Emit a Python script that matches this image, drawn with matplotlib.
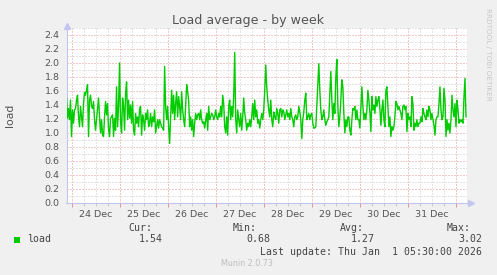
import numpy as np
import pandas as pd
import matplotlib
matplotlib.use("Agg")
import matplotlib.pyplot as plt
import matplotlib.dates as mdates
from matplotlib.ticker import MultipleLocator, FuncFormatter, NullFormatter
from matplotlib.patches import Rectangle

# ---------------- data ----------------
title = "Load average - by week"
y_label = "load"
series_name = "load"
end_time = "2026-01-01 05:00"
step_minutes = 30

load_part1 = [1.50, 1.21, 1.35, 1.19, 1.47, 0.95, 1.33, 1.14, 1.33, 1.35,
              1.47, 1.54, 1.23, 1.09, 1.38, 1.23, 1.09, 1.42, 1.58, 1.54,
              1.61, 1.69, 0.95, 1.47, 1.54, 1.38, 1.35, 1.45, 1.19, 1.04,
              1.19, 1.33, 1.50, 1.23, 1.00, 1.19, 0.97, 0.95, 1.23, 1.45,
              1.26, 1.42, 1.04, 0.95, 1.21, 1.23, 1.26, 0.95, 1.21, 1.04,
              1.66, 1.09, 1.38, 2.00, 1.16, 1.00, 1.50, 1.38, 1.04, 1.57,
              1.73, 1.19, 1.47, 1.21, 1.40, 1.14, 1.45, 1.04, 0.97, 1.28,
              1.14, 1.23, 1.09, 1.35, 1.38, 0.97, 1.26, 1.19, 1.04, 1.28,
              1.19, 1.33, 1.09, 1.14, 1.28, 1.09, 1.23, 1.16, 1.33, 1.00,
              1.09, 1.19, 1.07, 1.19, 1.14, 1.09, 1.07, 1.04]
load_part2 = [1.95, 1.38, 1.19, 1.38, 1.09, 0.85, 1.23, 1.61, 1.28, 1.54,
              1.19, 1.42, 1.59, 1.23, 1.52, 1.38, 1.19, 1.59, 1.33, 1.19,
              1.09, 1.38, 1.69, 1.59, 1.47, 1.09, 1.23, 1.04, 1.19, 0.95,
              1.14, 1.28, 1.19, 1.26, 1.28, 1.19, 1.33, 1.19, 1.14, 1.16,
              1.07, 1.19, 1.28, 1.04, 1.38, 1.19, 1.23, 1.28, 1.26, 1.19,
              1.23, 1.33, 1.23, 1.19, 1.28, 1.23, 1.38, 1.23, 1.54, 1.42,
              1.09, 1.00, 1.23, 0.97, 1.38, 1.47, 1.19, 1.38, 1.23, 1.52,
              2.15, 1.19, 1.00, 1.33, 1.19, 1.09, 1.28, 1.04, 1.23, 1.50,
              1.28, 1.19, 1.04, 1.14, 1.09, 1.19, 1.09, 1.23, 1.42, 1.19,
              1.47, 1.23, 1.33, 1.14, 1.19, 1.07, 1.19, 1.28, 1.19, 1.33,
              1.61, 1.97, 1.66, 1.47, 1.33, 1.23, 1.47, 1.19, 1.09, 1.30,
              1.23]
load_part3 = [1.19, 1.35, 1.28, 1.14, 1.33, 1.35, 1.23, 1.33, 1.30,
              1.19, 1.26, 1.33, 1.23, 1.28, 1.19, 1.35, 1.23, 1.19, 1.09,
              1.23, 1.26, 1.19, 1.23, 1.38, 1.30, 1.19, 0.92, 1.19, 1.30,
              1.47, 1.57, 1.19, 1.23, 1.28, 1.19, 1.26, 1.28, 1.14, 1.07,
              1.07, 1.09, 1.38, 1.66, 1.99, 1.61, 1.33, 1.19, 1.23, 1.33,
              1.19, 1.11, 1.16, 1.19, 1.23, 1.57, 1.88, 1.47, 1.19, 1.42,
              1.28, 1.80, 2.05, 1.38, 1.09, 1.23, 1.47, 1.76, 1.66, 1.28,
              1.00, 1.19, 1.09, 1.23, 1.23, 1.04, 0.97, 1.19, 1.35, 1.33,
              1.38, 1.19, 1.33, 1.19, 1.19, 1.07, 1.38, 1.66, 1.38, 1.19,
              1.28, 1.19, 1.33, 1.61, 1.47, 1.30, 1.02, 1.52, 1.33, 1.40,
              1.28, 1.52, 1.38, 1.47, 1.52, 1.35]
load_part4 = [1.11, 1.33, 1.47, 1.19, 1.09, 1.61, 1.66, 1.38, 1.09, 1.23,
              0.95, 1.09, 1.04, 1.09, 1.23, 1.45, 1.42, 1.33, 1.38, 1.33,
              1.28, 1.19, 1.38, 1.40, 1.33, 1.38, 1.02, 1.28, 1.19, 1.23,
              1.09, 1.52, 1.42, 1.04, 1.14, 1.09, 1.19, 1.09, 1.14, 1.14,
              1.23, 1.16, 1.35, 1.28, 1.23, 1.19, 1.33, 1.23, 1.38, 1.33,
              1.19, 1.28, 1.19, 1.11, 0.97, 1.19, 1.23, 1.23, 1.42, 1.66,
              1.33, 1.19, 1.23, 1.64, 1.47, 0.95, 1.19, 1.04, 1.14, 1.00,
              1.19, 1.54, 1.33, 1.23, 1.42, 1.09, 1.47, 1.33, 1.14, 1.19,
              1.16, 1.19, 1.14, 1.52, 1.78, 1.23]

stat_labels = ["Cur:", "Min:", "Avg:", "Max:"]
stat_values = ["1.54", "0.68", "1.27", "3.02"]
last_update = "Last update: Thu Jan  1 05:30:00 2026"
footer = "Munin 2.0.73"
side_text = "RRDTOOL / TOBI OETIKER"

y_min, y_max = 0.0, 2.5
x_start = "2025-12-23 21:30"
x_end = "2026-01-01 05:30"

# ---------------- build ----------------
load = np.array(load_part1 + load_part2 + load_part3 + load_part4)
times = pd.date_range(end=end_time, periods=len(load), freq=f"{step_minutes}min")

W, H = 497, 275
fig = plt.figure(figsize=(W / 100, H / 100), dpi=100, facecolor="#f0f0f0")

def px(x, y):
    return x / W, 1 - y / H

L, R, T, B = 66.5, 467, 28, 203
ax = fig.add_axes([L / W, 1 - B / H, (R - L) / W, (B - T) / H])
ax.set_facecolor("white")

major_red = "#e49494"
minor_gray = "#c8c8c8"
axis_col = "#c4c4f0"
text_col = "#555555"

ax.plot(times, load, color="#00cc00", lw=1.0, zorder=3)

ax.set_xlim(pd.Timestamp(x_start), pd.Timestamp(x_end))
ax.set_ylim(y_min, y_max)

ax.xaxis.set_major_locator(mdates.DayLocator())
ax.xaxis.set_minor_locator(mdates.HourLocator(byhour=[6, 12, 18]))
ax.xaxis.set_major_formatter(NullFormatter())

def minor_fmt(v, pos):
    d = mdates.num2date(v)
    return d.strftime("%d %b") if d.hour == 12 else ""

ax.xaxis.set_minor_formatter(FuncFormatter(minor_fmt))
ax.yaxis.set_major_locator(MultipleLocator(0.2))
ax.yaxis.set_minor_locator(MultipleLocator(0.1))
ax.yaxis.set_major_formatter(FuncFormatter(lambda v, p: f"{v:.1f}"))

dot = (0, (1, 2))
ax.grid(which="minor", color=minor_gray, lw=0.72, linestyle=dot, zorder=1)
ax.grid(which="major", color=major_red, lw=0.72, linestyle=dot, zorder=2)
ax.set_axisbelow(True)

ax.tick_params(axis="x", which="major", length=3, color=major_red, width=0.72)
ax.tick_params(axis="x", which="minor", length=2, color=minor_gray, width=0.72,
               labelsize=6.8, labelcolor=text_col, pad=3)
ax.tick_params(axis="y", which="both", length=0, labelsize=6.8,
               labelcolor=text_col, pad=5)

for s in ["top", "right"]:
    ax.spines[s].set_visible(False)
for s in ["left", "bottom"]:
    ax.spines[s].set_color(axis_col)
    ax.spines[s].set_linewidth(0.8)

# axis arrows
ax.plot([0], [1.01], marker="^", ms=4.5, color=axis_col, transform=ax.transAxes,
        clip_on=False, zorder=5)
ax.plot([1.01], [0], marker=">", ms=4.5, color=axis_col, transform=ax.transAxes,
        clip_on=False, zorder=5)
ax.plot([0, 0], [1.0, 1.02], color=axis_col, lw=0.8, transform=ax.transAxes, clip_on=False)
ax.plot([1.0, 1.01], [0, 0], color=axis_col, lw=0.8, transform=ax.transAxes, clip_on=False)

# texts
fig.text(*px(248, 24), title, ha="center", va="baseline", fontsize=9.1, color=text_col)
fig.text(*px(10, 115), y_label, ha="center", va="center", rotation=90,
         fontsize=7.8, color=text_col)
fig.text(*px(488, 54), side_text, ha="center", va="center", rotation=270,
         fontsize=5.2, color="#c8c8c8")

mono = dict(family="DejaVu Sans Mono", fontsize=7.1, color="#444444")
fig.add_artist(Rectangle(px(14, 243), 6 / W, 6 / H, transform=fig.transFigure,
                         facecolor="#00cc00", edgecolor="none"))
fig.text(*px(27, 239), series_name, ha="left", va="center", **mono)
label_left = [128, 233, 340, 447]
value_right = [163, 270, 375, 482]
for lab, xl in zip(stat_labels, label_left):
    fig.text(*px(xl, 228), lab, ha="left", va="center", **mono)
for val, xr in zip(stat_values, value_right):
    fig.text(*px(xr, 239), val, ha="right", va="center", **mono)
fig.text(*px(482, 252), last_update, ha="right", va="center", **mono)
fig.text(*px(247, 264), footer, ha="center", va="center", fontsize=5.8, color="#bdbdbd")

fig.savefig("out.png", dpi=100, facecolor=fig.get_facecolor())
